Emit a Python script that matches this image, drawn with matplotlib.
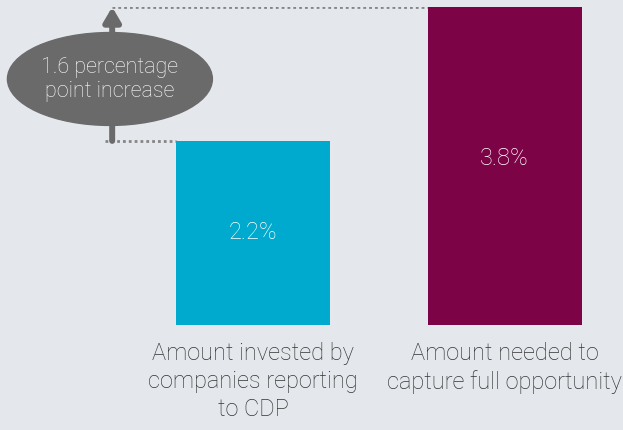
import matplotlib.pyplot as plt
from matplotlib.patches import Ellipse

# Data
categories = ['Amount invested by\ncompanies reporting\nto CDP',
              'Amount needed to\ncapture full opportunity']
values = [2.2, 3.8]
value_labels = ['2.2%', '3.8%']
colors = ['#00a9ce', '#7c0346']
diff_label = '1.6 percentage\npoint increase'

bg = '#e4e8ec'
grey = '#6a6a6b'
plt.rcParams['font.family'] = ['Roboto', 'DejaVu Sans']

fig = plt.figure(figsize=(6.23, 4.31), dpi=100, facecolor=bg)
ax = fig.add_axes([0, 0.2436, 1, 0.7378])
ax.set_facecolor(bg)
ax.set_xlim(-1.006, 1.471)
ax.set_ylim(0, max(values))
ax.axis('off')

x = list(range(len(values)))
bars = ax.bar(x, values, width=0.612, color=colors, zorder=2)

# value labels sit in the upper part of each bar
for xi, v, lab in zip(x, values, value_labels):
    ax.text(xi, v - (1.08 if v < 3 else 1.8), lab, ha='center', va='center',
            color='white', fontsize=17, fontweight='light')

for xi, cat in zip(x, categories):
    ax.text(xi, -0.19, cat, ha='center', va='top', color='#333333',
            fontsize=17, fontweight='light', linespacing=1.28, clip_on=False)

# difference bracket: dotted guides and arrow
arrow_x = -0.56
dots = dict(linestyle=(0, (1, 1.1)), color='#858586', lw=2, zorder=1)
ax.plot([arrow_x, 0.88], [values[1], values[1]], **dots)
ax.plot([arrow_x - 0.03, -0.306], [values[0], values[0]], **dots)
ax.annotate('', xy=(arrow_x, values[1]), xytext=(arrow_x, values[0]),
            arrowprops=dict(arrowstyle='-|>,head_width=0.5,head_length=0.85',
                            color=grey, lw=4.3, shrinkA=0, shrinkB=0), zorder=3)

ell = Ellipse((-0.569, 2.94), 0.815, 1.11, color=grey, zorder=4)
ax.add_patch(ell)
ax.text(-0.569, 2.95, diff_label, ha='center', va='center', color='white',
        fontsize=15.5, fontweight='light', linespacing=1.2, zorder=5)

fig.savefig('out.png', dpi=100, facecolor=bg)
